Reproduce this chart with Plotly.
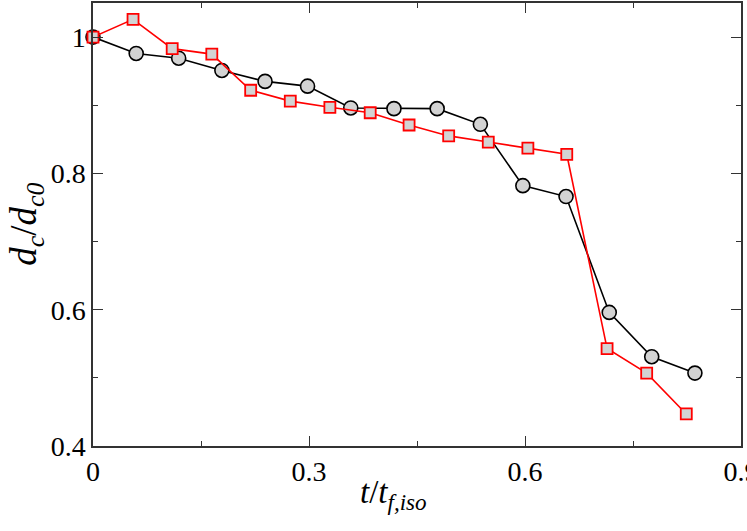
import plotly.graph_objects as go

# Black circles series
circ_x = [0, 0.06, 0.119, 0.179, 0.239, 0.298, 0.358, 0.418, 0.478, 0.538, 0.597, 0.657, 0.717, 0.776, 0.836]
circ_y = [1.0, 0.976, 0.969, 0.951, 0.935, 0.928, 0.896, 0.895, 0.895, 0.872, 0.782, 0.766, 0.596, 0.531, 0.507]

# Red squares series
sq_x = [0, 0.0556, 0.11, 0.165, 0.219, 0.274, 0.329, 0.385, 0.439, 0.494, 0.549, 0.604, 0.658, 0.714, 0.769, 0.824]
sq_y = [1.0, 1.026, 0.983, 0.975, 0.922, 0.906, 0.897, 0.889, 0.871, 0.855, 0.846, 0.837, 0.828, 0.543, 0.507, 0.447]

x_ticks = [0, 0.3, 0.6, 0.9]
x_ticklabels = ["0", "0.3", "0.6", "0.9"]
x_minor = [0.15, 0.45, 0.75]
y_ticks = [0.4, 0.6, 0.8, 1.0]
y_ticklabels = ["0.4", "0.6", "0.8", "1"]
y_minor = [0.5, 0.7, 0.9]

x_title = "<i>t</i>/<i>t</i><sub><i>f,iso</i></sub>"
y_title = "<i>d</i><sub><i>c</i></sub>/<i>d</i><sub><i>c0</i></sub>"

fig = go.Figure()
fig.add_trace(go.Scatter(
    x=circ_x, y=circ_y, mode="lines+markers",
    line=dict(color="black", width=1.6),
    marker=dict(symbol="circle", size=14, color="#d3d3d3", line=dict(color="black", width=1.6)),
    showlegend=False, cliponaxis=False))
fig.add_trace(go.Scatter(
    x=sq_x, y=sq_y, mode="lines+markers",
    line=dict(color="red", width=1.6),
    marker=dict(symbol="square", size=11, color="#d3d3d3", line=dict(color="red", width=1.8)),
    showlegend=False, cliponaxis=False))

font_family = "Times New Roman"
axis_common = dict(
    showline=True, linecolor="#333", linewidth=1.5, mirror="allticks",
    ticks="inside", ticklen=10, tickwidth=1.2, tickcolor="#333",
    showgrid=False, zeroline=False, automargin=False,
    ticklabeloverflow="allow",
    tickfont=dict(family=font_family, size=28, color="black"),
)

fig.update_xaxes(**axis_common, range=[0, 0.9], tickvals=x_ticks, ticktext=x_ticklabels,
                 minor=dict(ticks="inside", ticklen=5, tickwidth=1.2, tickcolor="#333", tickvals=x_minor))
fig.update_yaxes(**axis_common, range=[0.4, 1.05], tickvals=y_ticks, ticktext=y_ticklabels,
                 minor=dict(ticks="inside", ticklen=5, tickwidth=1.2, tickcolor="#333", tickvals=y_minor))

fig.add_annotation(text=x_title, xref="paper", yref="paper", x=0.4645, y=-0.11,
                   xanchor="center", yanchor="middle", showarrow=False,
                   font=dict(family=font_family, size=33, color="black"))
fig.add_annotation(text=y_title, xref="paper", yref="paper", x=-0.103, y=0.5,
                   xanchor="center", yanchor="middle", showarrow=False, textangle=-90,
                   font=dict(family=font_family, size=37, color="black"))

fig.update_layout(
    width=747, height=531,
    margin=dict(l=93, r=6, t=3, b=85),
    paper_bgcolor="white", plot_bgcolor="white",
    font=dict(family=font_family),
)

fig.write_html("out.html", config={"displayModeBar": False},
               post_script="document.body.style.margin='0';")
